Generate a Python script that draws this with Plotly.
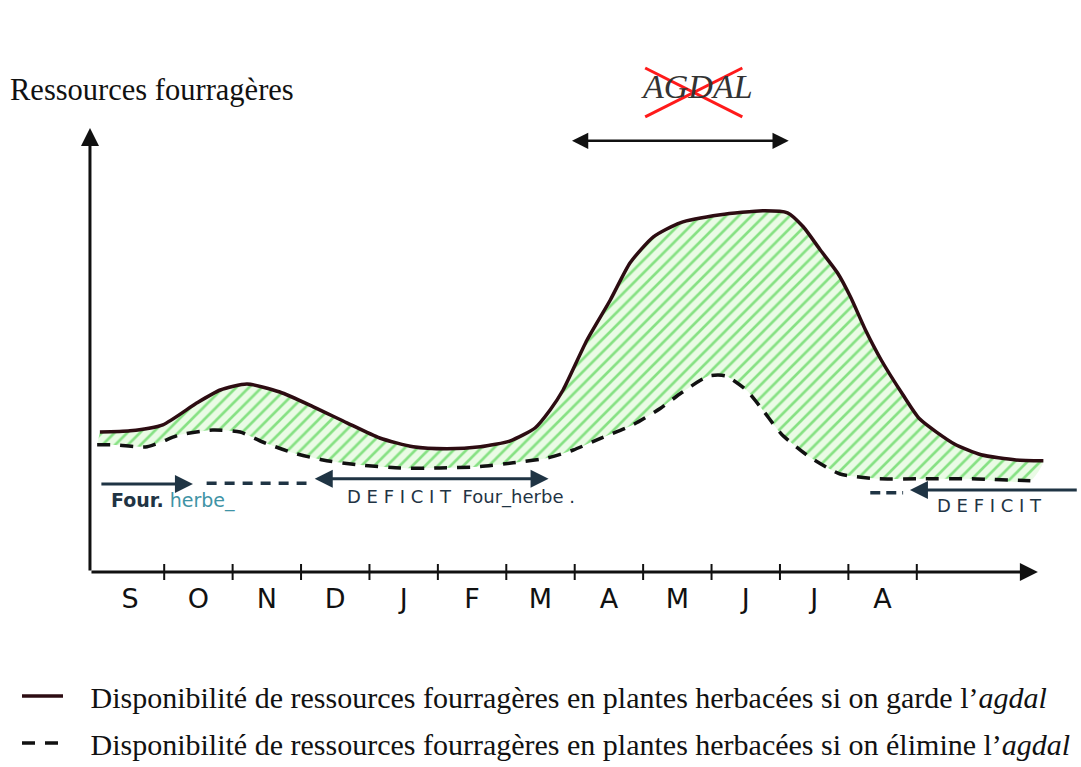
import plotly.graph_objects as go

# Months of the pastoral year, September -> August
months = ["S", "O", "N", "D", "J", "F", "M", "A", "M", "J", "J", "A"]
month_pos = list(range(len(months)))

# Forage resources when the agdal is kept (upper curve)
keep_x = [-0.44, 0.00, 0.48, 0.98, 1.32, 1.71, 2.19, 2.68, 3.17, 3.65, 4.14, 4.63,
          5.12, 5.56, 5.92, 6.14, 6.33, 6.68, 7.02, 7.31, 7.65, 8.04, 8.63, 9.25,
          9.61, 9.84, 10.09, 10.34, 10.53, 10.75, 10.98, 11.29, 11.54, 12.05,
          12.44, 12.95, 13.35]
keep_y = [3.50, 3.53, 3.68, 4.23, 4.55, 4.70, 4.50, 4.13, 3.73, 3.35, 3.13, 3.08,
          3.13, 3.28, 3.60, 4.05, 4.55, 5.80, 6.80, 7.73, 8.38, 8.73, 8.93, 9.03,
          8.98, 8.63, 8.05, 7.48, 6.88, 6.05, 5.30, 4.45, 3.83, 3.20,
          2.93, 2.80, 2.78]

# Forage resources when the agdal is removed (lower curve)
drop_x = [-0.48, -0.25, 0.25, 0.73, 1.21, 1.61, 1.94, 2.38, 2.82, 3.32, 3.95, 4.53,
          5.07, 5.60, 6.10, 6.48, 6.86, 7.35, 7.76, 8.06, 8.46, 8.71, 9.02, 9.27,
          9.52, 9.93, 10.38, 10.94, 11.54, 12.30, 13.16]
drop_y = [3.18, 3.18, 3.13, 3.43, 3.55, 3.50, 3.25, 2.98, 2.80, 2.68, 2.60, 2.60,
          2.63, 2.73, 2.85, 3.05, 3.33, 3.68, 4.10, 4.48, 4.90, 4.90, 4.53, 4.00,
          3.45, 2.88, 2.45, 2.33, 2.33, 2.33, 2.28]

# Period of the agdal (closure of the pastures)
agdal_span = [6.46, 9.65]

# Supply / deficit bands drawn under the curves
supply_span = [-0.44, 0.92]
deficit_span = [2.70, 6.14]
deficit_end_span = [13.86, 11.40]

PAD = "\u00a0\u00a0\u00a0"
legend_keep = PAD + "Disponibilité de ressources fourragères en plantes herbacées si on garde l’<i>agdal</i>"
legend_drop = PAD + "Disponibilité de ressources fourragères en plantes herbacées si on élimine l’<i>agdal</i>"

X_RANGE = [-1.90, 13.90]
Y_RANGE = [-4.875, 14.30]
AXIS_X0 = -0.585
AXIS_X1 = 13.27
AXIS_Y1 = 11.10

SERIF = "Liberation Serif"
HAND = "DejaVu Sans"
INK = "#1f3444"
TEAL = "#3f93a5"

fig = go.Figure()

# Hatched area between the two curves
fig.add_trace(go.Scatter(
    x=keep_x + drop_x[::-1], y=keep_y + drop_y[::-1],
    mode="lines", line=dict(width=0, shape="spline", smoothing=0.6),
    fill="toself", fillcolor="rgba(0,0,0,0)",
    fillpattern=dict(shape="/", fgcolor="#22c822", bgcolor="#eafbe5",
                     size=9, solidity=0.3),
    showlegend=False, hoverinfo="skip"))

fig.add_trace(go.Scatter(
    x=keep_x, y=keep_y, mode="lines", name=legend_keep,
    line=dict(color="#2d0c12", width=3.5, shape="spline", smoothing=0.6),
    legendgroup="keep", legendrank=1))

fig.add_trace(go.Scatter(
    x=drop_x, y=drop_y, mode="lines", name=legend_drop,
    line=dict(color="#111111", width=3.5, dash="13px,10px", shape="spline", smoothing=0.6),
    legendgroup="drop", legendrank=2))

# Tick marks between months on the time axis
tick_x, tick_y = [], []
for p in month_pos:
    tick_x += [p + 0.5, p + 0.5, None]
    tick_y += [-0.2, 0.2, None]
fig.add_trace(go.Scatter(x=tick_x, y=tick_y, mode="lines",
                         line=dict(color="#111", width=2),
                         showlegend=False, hoverinfo="skip"))

# Month letters
fig.add_trace(go.Scatter(x=month_pos, y=[-0.72] * len(months), mode="text",
                         text=months, textfont=dict(family=HAND, size=27, color="#111"),
                         showlegend=False, hoverinfo="skip"))

# Dashed links in the supply / deficit band
fig.add_trace(go.Scatter(x=[1.12, 2.58], y=[2.22, 2.22], mode="lines",
                         line=dict(color=INK, width=3.5, dash="10px,8px"),
                         showlegend=False, hoverinfo="skip"))
fig.add_trace(go.Scatter(x=[10.82, 11.30], y=[1.98, 1.98], mode="lines",
                         line=dict(color=INK, width=3.5, dash="10px,6px"),
                         showlegend=False, hoverinfo="skip"))

# Red cross over the AGDAL label
fig.add_trace(go.Scatter(x=[7.53, 8.95, None, 7.53, 8.95],
                         y=[12.60, 11.38, None, 11.38, 12.60], mode="lines",
                         line=dict(color="#ff1a1a", width=3),
                         showlegend=False, hoverinfo="skip"))


def arrow(x_tip, y_tip, x_tail, y_tail, color, width, size, both=False):
    fig.add_annotation(x=x_tip, y=y_tip, ax=x_tail, ay=y_tail,
                       xref="x", yref="y", axref="x", ayref="y",
                       text="", showarrow=True, arrowhead=2, arrowsize=size,
                       arrowwidth=width, arrowcolor=color,
                       arrowside="end+start" if both else "end")


# Axes
arrow(AXIS_X0, AXIS_Y1, AXIS_X0, 0, "#111", 3, 1.2)
arrow(AXIS_X1, 0, AXIS_X0, 0, "#111", 3, 1.2)

# Agdal period
arrow(agdal_span[0], 10.78, agdal_span[1], 10.78, "#111", 2.5, 1.3, both=True)

# Supply / deficit arrows
arrow(supply_span[1], 2.20, supply_span[0], 2.20, INK, 3, 1.2)
arrow(deficit_span[0], 2.33, deficit_span[1], 2.33, INK, 3, 1.2, both=True)
arrow(deficit_end_span[1], 2.05, deficit_end_span[0], 2.05, INK, 3, 1.2)

fig.add_annotation(x=-0.30, y=1.80, xref="x", yref="y", xanchor="left",
                   text="<b>Four.</b><span style='color:%s'> herbe_</span>" % TEAL,
                   showarrow=False, font=dict(family=HAND, size=19, color=INK))
fig.add_annotation(x=3.14, y=1.88, xref="x", yref="y", xanchor="left",
                   text="D E F I C I T  Four_herbe .",
                   showarrow=False, font=dict(family=HAND, size=18, color=INK))
fig.add_annotation(x=11.77, y=1.66, xref="x", yref="y", xanchor="left",
                   text="D E F I C I T",
                   showarrow=False, font=dict(family=HAND, size=18, color=INK))

fig.add_annotation(x=8.29, y=12.15, xref="x", yref="y",
                   text="<i>AGDAL</i>", showarrow=False,
                   font=dict(family=SERIF, size=34, color="#333"))

fig.add_annotation(x=8 / 1081, y=1 - 90 / 767, xref="paper", yref="paper",
                   xanchor="left", yanchor="middle",
                   text="Ressources fourragères", showarrow=False,
                   font=dict(family=SERIF, size=30.5, color="#111"))

fig.update_layout(
    width=1081, height=767, autosize=False,
    margin=dict(l=0, r=0, t=0, b=0, autoexpand=False),
    paper_bgcolor="white", plot_bgcolor="white",
    xaxis=dict(range=X_RANGE, visible=False, fixedrange=True),
    yaxis=dict(range=Y_RANGE, visible=False, fixedrange=True),
    showlegend=True,
    legend=dict(x=17 / 1081, y=1 - 670 / 767, xanchor="left", yanchor="top",
                bgcolor="rgba(0,0,0,0)", traceorder="grouped", tracegroupgap=5,
                itemwidth=41,
                font=dict(family=SERIF, size=30, color="#111")),
)

fig.write_html("out.html")
